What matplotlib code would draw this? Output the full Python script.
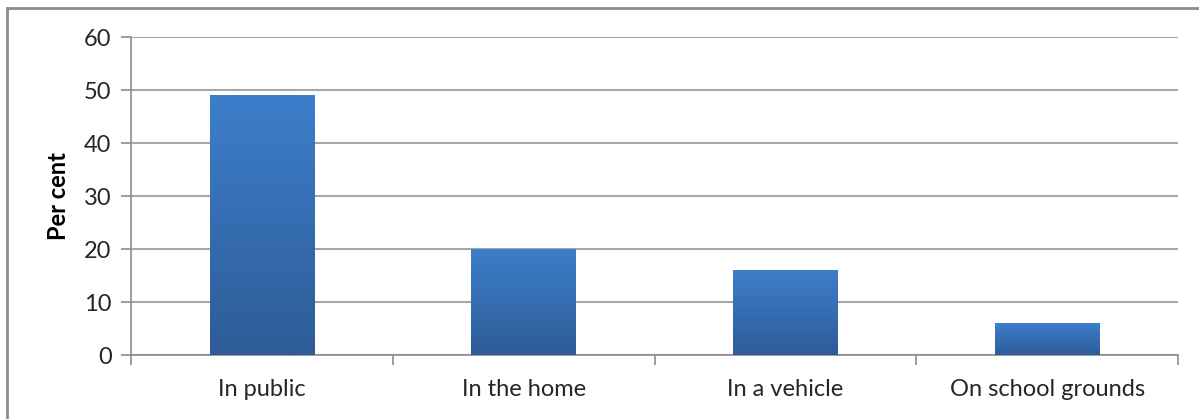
import numpy as np
import matplotlib.pyplot as plt
from matplotlib.patches import Rectangle

# === Data ===
categories = ['In public', 'In the home', 'In a vehicle', 'On school grounds']
per_cent = [49, 20, 16, 6]
y_ticks = [0, 10, 20, 30, 40, 50, 60]

W, H = 1199, 419
fig = plt.figure(figsize=(W / 100, H / 100), dpi=100)
plt.rcParams['font.family'] = ['Lato', 'DejaVu Sans']

# chart area frame (cut off at right and bottom, like the screenshot)
fig.patches.append(Rectangle((7 / W, -0.1), 1.2, 1 - 8 / H + 0.1, transform=fig.transFigure,
                             fill=False, edgecolor='#8c8c8c', linewidth=2))

ax = fig.add_axes([131 / W, 1 - 355 / H, (1178 - 131) / W, (355 - 37) / H])

x = np.arange(len(categories))
bars = ax.bar(x, per_cent, width=0.4, color='#3a74bd', zorder=3)

# vertical gradient inside each bar
grad = np.linspace(0, 1, 256).reshape(-1, 1)
cmap = plt.matplotlib.colors.LinearSegmentedColormap.from_list('g', ['#2e5c97', '#3d7ecb'])
for b in bars:
    bx, bw, bh = b.get_x(), b.get_width(), b.get_height()
    im = ax.imshow(grad, extent=(bx, bx + bw, 0, bh), origin='lower', aspect='auto',
                   cmap=cmap, zorder=4)
    im.set_clip_path(b)

ax.set_xlim(-0.5, len(categories) - 0.5)
ax.set_ylim(0, 60)
ax.set_yticks(y_ticks)
ax.yaxis.grid(True, color='#a6a6a6', linewidth=1.5, zorder=0)
ax.set_axisbelow(True)

ax.set_xticks(np.arange(len(categories) + 1) - 0.5)
ax.set_xticklabels([])
ax.set_xticks(x, minor=True)
ax.set_xticklabels(categories, minor=True, fontsize=17, color='#262626')
ax.tick_params(axis='x', which='major', length=7, width=1.2, color='#8c8c8c', direction='out')
ax.tick_params(axis='x', which='minor', length=0, pad=17)
ax.tick_params(axis='y', length=7, width=1.2, color='#8c8c8c', labelsize=17,
               labelcolor='#262626', pad=7)

for s in ['top', 'right']:
    ax.spines[s].set_visible(False)
for s in ['left', 'bottom']:
    ax.spines[s].set_color('#8c8c8c')
    ax.spines[s].set_linewidth(1.2)

ax.set_ylabel('Per cent', fontsize=17, fontweight='bold', color='black', labelpad=10)

fig.savefig('out.png', dpi=100)
